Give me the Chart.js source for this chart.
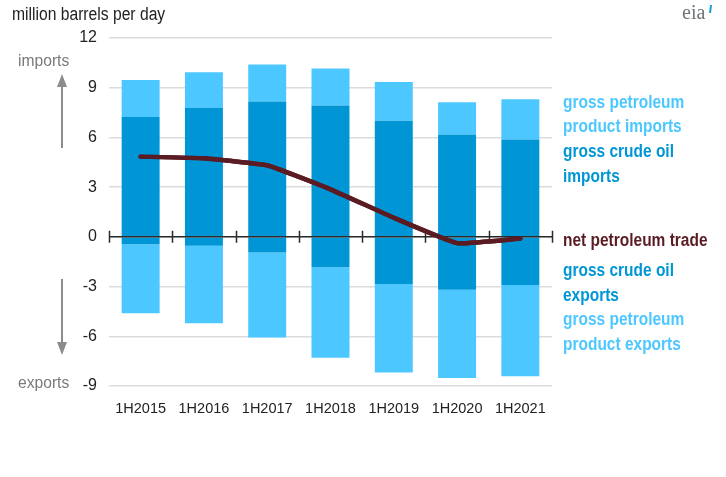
<!DOCTYPE html>
<html>
<head>
<meta charset="utf-8">
<script src="https://cdn.jsdelivr.net/npm/chart.js@4"></script>
<style>
  html, body { margin: 0; padding: 0; background: #fff; }
  #wrap { width: 726px; height: 477px; position: relative; }
</style>
</head>
<body>
<div id="wrap"><canvas id="bar_chart"></canvas></div>
<script>
// half-year periods
const labels = ["1H2015", "1H2016", "1H2017", "1H2018", "1H2019", "1H2020", "1H2021"];

// million barrels per day
const crudeImports   = [7.23, 7.77, 8.17, 7.93, 7.01, 6.17, 5.87];
const productImports = [2.23, 2.17, 2.23, 2.23, 2.33, 1.96, 2.44];
const crudeExports   = [-0.44, -0.54, -0.94, -1.84, -2.85, -3.19, -2.91];
const productExports = [-4.17, -4.68, -5.14, -5.45, -5.34, -5.32, -5.50];
const netTrade       = [4.84, 4.74, 4.32, 2.87, 1.15, -0.38, -0.10];

const yTicks = [-9, -6, -3, 0, 3, 6, 9, 12];

const LIGHT = "#4dc7ff";
const CRUDE = "#0096d6";
const NET = "#5a1c22";
const FONT = "'Liberation Sans', Arial, sans-serif";

// text drawn a bit condensed, like the original
function narrowText(c, txt, x, y, sx) {
  c.save();
  c.translate(x, y);
  c.scale(sx, 1);
  c.fillText(txt, 0, 0);
  c.restore();
}

const extras = {
  id: "extras",
  afterDatasetsDraw(chart) {
    const c = chart.ctx;
    const x = chart.scales.x;
    const y = chart.scales.y;
    const y0 = y.getPixelForValue(0);
    // zero line with category ticks, on top of bars
    c.save();
    c.strokeStyle = "#2b2b2b";
    c.lineWidth = 1.5;
    c.beginPath();
    c.moveTo(x.left, y0);
    c.lineTo(x.right, y0);
    const step = (x.right - x.left) / labels.length;
    for (let i = 0; i <= labels.length; i++) {
      const px = Math.round(x.left + i * step) + 0.5;
      c.moveTo(px, y0 - 6);
      c.lineTo(px, y0 + 6);
    }
    c.stroke();
    c.restore();
    // redraw net line over the zero line
    const meta = chart.getDatasetMeta(4);
    meta.dataset.draw(c, chart.chartArea);
  },
  afterDraw(chart) {
    const c = chart.ctx;
    c.save();
    c.textBaseline = "middle";
    c.textAlign = "left";
    c.fillStyle = "#222";
    c.font = "18px " + FONT;
    narrowText(c, "million barrels per day", 12, 15, 0.87);

    c.fillStyle = "#7a7a7a";
    c.font = "17px " + FONT;
    narrowText(c, "imports", 18, 61, 0.92);
    narrowText(c, "exports", 18, 383, 0.92);

    // arrows
    c.strokeStyle = "#8c8c8c";
    c.fillStyle = "#8c8c8c";
    c.lineWidth = 2;
    c.beginPath();
    c.moveTo(62, 86); c.lineTo(62, 148);
    c.moveTo(62, 279); c.lineTo(62, 343);
    c.stroke();
    c.beginPath();
    c.moveTo(62, 74); c.lineTo(57, 87); c.lineTo(67, 87); c.closePath();
    c.moveTo(62, 355); c.lineTo(57, 342); c.lineTo(67, 342); c.closePath();
    c.fill();

    // legend text
    c.font = "bold 18px " + FONT;
    const lx = 563;
    const rows = [
      ["gross petroleum", 103, LIGHT],
      ["product imports", 127, LIGHT],
      ["gross crude oil", 152, CRUDE],
      ["imports", 177, CRUDE],
      ["net petroleum trade", 241, NET],
      ["gross crude oil", 271, CRUDE],
      ["exports", 296, CRUDE],
      ["gross petroleum", 320, LIGHT],
      ["product exports", 345, LIGHT]
    ];
    rows.forEach(r => { c.fillStyle = r[2]; narrowText(c, r[0], lx, r[1], 0.86); });

    // eia mark
    c.fillStyle = "#6f7478";
    c.font = "20px 'Liberation Serif', 'DejaVu Serif', serif";
    c.fillText("eia", 682, 14);
    c.strokeStyle = "#1a9ad6";
    c.lineWidth = 2;
    c.beginPath();
    c.moveTo(711, 5); c.lineTo(710, 13);
    c.stroke();
    c.restore();
  }
};

const ctx = document.getElementById("bar_chart");
new Chart(ctx, {
  type: "bar",
  data: {
    labels: labels,
    datasets: [
      { label: "gross crude oil imports", data: crudeImports, backgroundColor: CRUDE, stack: "trade", order: 1 },
      { label: "gross petroleum product imports", data: productImports, backgroundColor: LIGHT, stack: "trade", order: 1 },
      { label: "gross crude oil exports", data: crudeExports, backgroundColor: CRUDE, stack: "trade", order: 1 },
      { label: "gross petroleum product exports", data: productExports, backgroundColor: LIGHT, stack: "trade", order: 1 },
      {
        type: "line",
        label: "net petroleum trade",
        data: netTrade,
        stack: "net",
        order: 0,
        borderColor: NET,
        borderWidth: 4.5,
        pointRadius: 0,
        tension: 0.1,
        borderCapStyle: "round",
        borderJoinStyle: "round"
      }
    ]
  },
  options: {
    responsive: true,
    maintainAspectRatio: false,
    animation: false,
    layout: { padding: { left: 49, right: 174, top: 38, bottom: 51 } },
    plugins: { legend: { display: false }, tooltip: { enabled: false } },
    datasets: { bar: { categoryPercentage: 1, barPercentage: 0.6, borderWidth: 0 } },
    scales: {
      x: {
        stacked: true,
        grid: { display: false, drawTicks: false },
        border: { display: false },
        ticks: { color: "#222", font: { family: FONT, size: 14.5 }, padding: 14, maxRotation: 0, autoSkip: false },
        afterFit(s) { s.height = 40; }
      },
      y: {
        stacked: true,
        min: -9,
        max: 12,
        afterBuildTicks(s) { s.ticks = yTicks.map(v => ({ value: v })); },
        grid: { color: "#dcdcdc", lineWidth: 1.5, drawTicks: false },
        border: { display: false },
        ticks: { color: "#222", font: { family: FONT, size: 16 }, padding: 12 },
        afterFit(s) { s.width = 60; }
      }
    }
  },
  plugins: [extras]
});
</script>
</body>
</html>
